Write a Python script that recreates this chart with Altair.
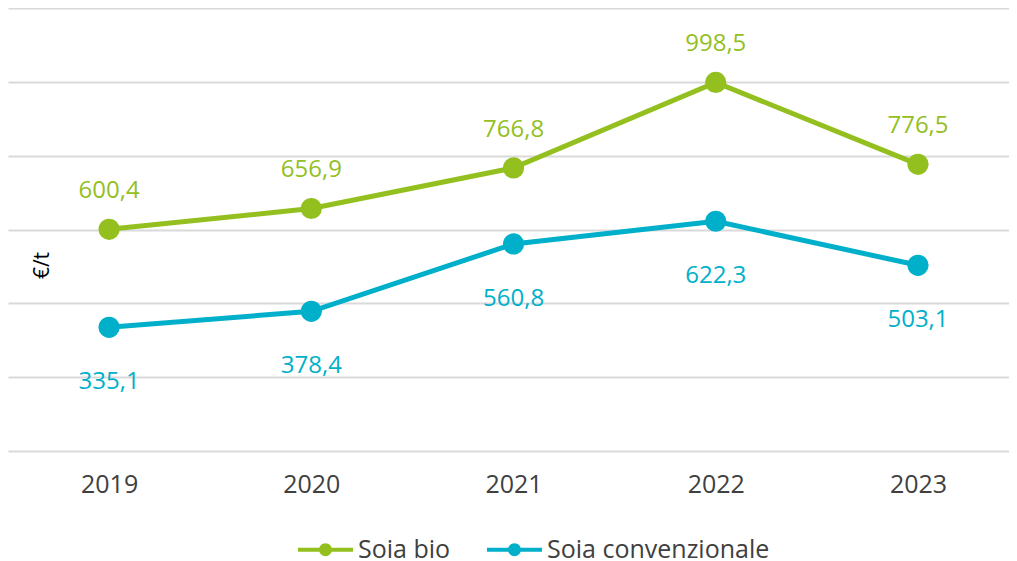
import altair as alt
import pandas as pd

years = [2019, 2020, 2021, 2022, 2023]
series_names = ["Soia bio", "Soia convenzionale"]
soia_bio = [600.4, 656.9, 766.8, 998.5, 776.5]
soia_conv = [335.1, 378.4, 560.8, 622.3, 503.1]
colors = ["#93C01F", "#00B0CA"]
y_ticks = [0, 200, 400, 600, 800, 1000, 1200]

rows = []
for s, vals in zip(series_names, [soia_bio, soia_conv]):
    for y, v in zip(years, vals):
        rows.append({"anno": y, "serie": s, "valore": v,
                     "label": f"{v:.1f}".replace(".", ",")})
df = pd.DataFrame(rows)

FONT = "Open Sans"
# legend glyph: a line with a dot in the middle (unit = 12px)
legend_path = ("M-2.29,-0.167H2.29V0.167H-2.29Z"
               "M0.54,0A0.54,0.54 0 1,1 -0.54,0A0.54,0.54 0 1,1 0.54,0Z")

x_enc = alt.X("anno:Q",
              scale=alt.Scale(domain=[2018.5, 2023.45], nice=False, zero=False),
              axis=alt.Axis(title=None, values=years, format="d", labelFontSize=25,
                            labelColor="#404040", labelFont=FONT, labelAngle=0,
                            domain=False, ticks=False, grid=False, labelPadding=21))
y_enc = alt.Y("valore:Q", scale=alt.Scale(domain=[0, 1200], nice=False),
              axis=alt.Axis(values=y_ticks, labels=False, ticks=False, domain=False,
                            grid=True, gridColor="#D9D9D9", gridWidth=2,
                            title="€/t", titleFont=FONT, titleFontSize=21,
                            titleFontWeight="normal", titleColor="#000000",
                            titleX=34, titleY=257, titleAngle=270,
                            titleAlign="center", titleBaseline="middle"))
color_scale = alt.Scale(domain=series_names, range=colors)
legend = alt.Legend(title=None, orient="none", legendX=305, legendY=529,
                    direction="horizontal",
                    symbolType=legend_path, symbolSize=576,
                    symbolStrokeWidth=0, symbolOpacity=1,
                    symbolFillColor="#93C01F",
                    labelFontSize=25, labelColor="#404040", labelFont=FONT,
                    labelLimit=500, labelOffset=20, columnPadding=36)

base = alt.Chart(df)

points = base.mark_point(filled=True, size=450, opacity=1).encode(
    x=x_enc, y=y_enc,
    color=alt.Color("serie:N", scale=color_scale, legend=legend))

lines = base.mark_line(strokeWidth=5).encode(
    x=x_enc, y=y_enc,
    color=alt.Color("serie:N", scale=color_scale, legend=legend))

labels_bio = base.mark_text(fontSize=24, font=FONT, dy=-38, baseline="middle",
                            color=colors[0]).encode(
    x=x_enc, y=y_enc, text="label:N").transform_filter(
    alt.datum.serie == series_names[0])

labels_conv = base.mark_text(fontSize=24, font=FONT, dy=55, baseline="middle",
                             color=colors[1]).encode(
    x=x_enc, y=y_enc, text="label:N").transform_filter(
    alt.datum.serie == series_names[1])

chart = alt.layer(points, lines, labels_bio, labels_conv).properties(
    width=1001, height=443,
    padding={"left": 0, "top": 0, "right": 0, "bottom": 0}
).configure(font=FONT, view=alt.ViewConfig(stroke=None))

chart.save("out.html", embed_options={"renderer": "svg", "actions": False})
